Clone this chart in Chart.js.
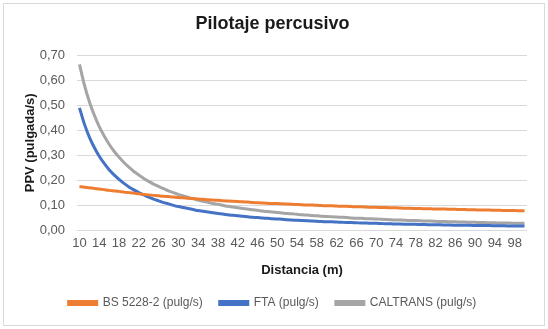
<!DOCTYPE html>
<html>
<head>
<meta charset="utf-8">
<script src="https://cdn.jsdelivr.net/npm/chart.js@4.4.1/dist/chart.umd.min.js"></script>
<style>
  html, body { margin: 0; padding: 0; background: #fff; }
  #wrap { width: 548px; height: 329px; }
</style>
</head>
<body>
<div id="wrap"><canvas id="ppvChart" width="548" height="329"></canvas></div>
<script>
// distancia (m), 10..100
const distancias = [];
for (let d = 10; d <= 100; d++) distancias.push(d);

// PPV (pulg/s)
const bs5228 = [
  0.175, 0.172, 0.170, 0.167, 0.165, 0.162, 0.159, 0.157, 0.155, 0.152,
  0.150, 0.148, 0.145, 0.143, 0.141, 0.139, 0.137, 0.135, 0.134, 0.132,
  0.130, 0.129, 0.127, 0.126, 0.124, 0.123, 0.121, 0.120, 0.119, 0.117,
  0.116, 0.115, 0.114, 0.113, 0.112, 0.110, 0.109, 0.108, 0.107, 0.106,
  0.106, 0.105, 0.104, 0.103, 0.102, 0.101, 0.100, 0.100, 0.099, 0.098,
  0.097, 0.097, 0.096, 0.095, 0.095, 0.094, 0.093, 0.093, 0.092, 0.091,
  0.091, 0.090, 0.090, 0.089, 0.089, 0.088, 0.087, 0.087, 0.086, 0.086,
  0.085, 0.085, 0.084, 0.084, 0.084, 0.083, 0.083, 0.082, 0.082, 0.081,
  0.081, 0.080, 0.080, 0.080, 0.079, 0.079, 0.078, 0.078, 0.078, 0.077,
  0.077
];
const fta = [
  0.490, 0.425, 0.373, 0.331, 0.296, 0.267, 0.242, 0.221, 0.203, 0.187,
  0.173, 0.161, 0.150, 0.141, 0.132, 0.124, 0.117, 0.110, 0.105, 0.099,
  0.094, 0.090, 0.086, 0.082, 0.078, 0.075, 0.072, 0.069, 0.066, 0.064,
  0.061, 0.059, 0.057, 0.055, 0.053, 0.051, 0.050, 0.048, 0.047, 0.045,
  0.044, 0.043, 0.041, 0.040, 0.039, 0.038, 0.037, 0.036, 0.035, 0.034,
  0.033, 0.033, 0.032, 0.031, 0.030, 0.030, 0.029, 0.028, 0.028, 0.027,
  0.027, 0.026, 0.025, 0.025, 0.024, 0.024, 0.023, 0.023, 0.023, 0.022,
  0.022, 0.021, 0.021, 0.021, 0.020, 0.020, 0.019, 0.019, 0.019, 0.019,
  0.018, 0.018, 0.018, 0.018, 0.017, 0.017, 0.017, 0.016, 0.016, 0.016,
  0.016
];
const caltrans = [
  0.665, 0.582, 0.515, 0.461, 0.415, 0.377, 0.344, 0.316, 0.292, 0.271,
  0.252, 0.235, 0.221, 0.207, 0.195, 0.184, 0.175, 0.166, 0.157, 0.150,
  0.143, 0.137, 0.131, 0.125, 0.120, 0.115, 0.111, 0.106, 0.103, 0.099,
  0.095, 0.092, 0.089, 0.086, 0.084, 0.081, 0.079, 0.076, 0.074, 0.072,
  0.070, 0.068, 0.066, 0.065, 0.063, 0.061, 0.060, 0.058, 0.057, 0.055,
  0.054, 0.053, 0.052, 0.051, 0.050, 0.048, 0.047, 0.047, 0.045, 0.045,
  0.044, 0.043, 0.042, 0.041, 0.040, 0.040, 0.039, 0.038, 0.038, 0.037,
  0.036, 0.036, 0.035, 0.034, 0.034, 0.033, 0.033, 0.032, 0.032, 0.031,
  0.031, 0.030, 0.030, 0.029, 0.029, 0.028, 0.028, 0.028, 0.027, 0.027,
  0.027
];

const FONT = "'Liberation Sans Narrow', 'Arial Narrow', 'Liberation Sans', Arial, sans-serif";
const GRIS = '#595959';

// marco exterior del grafico
const marco = {
  id: 'marco',
  afterDraw(chart) {
    const ctx = chart.ctx;
    ctx.save();
    ctx.strokeStyle = '#d9d9d9';
    ctx.lineWidth = 1;
    ctx.strokeRect(3.5, 3.5, chart.width - 7, chart.height - 7);
    ctx.restore();
  }
};

new Chart(document.getElementById('ppvChart'), {
  type: 'line',
  data: {
    labels: distancias,
    datasets: [
      { label: 'BS 5228-2 (pulg/s)', data: bs5228, borderColor: '#ED7D31', backgroundColor: '#ED7D31' },
      { label: 'FTA (pulg/s)', data: fta, borderColor: '#4472C4', backgroundColor: '#4472C4' },
      { label: 'CALTRANS (pulg/s)', data: caltrans, borderColor: '#A5A5A5', backgroundColor: '#A5A5A5' }
    ]
  },
  plugins: [marco],
  options: {
    responsive: false,
    animation: false,
    devicePixelRatio: 1,
    layout: { padding: { top: 3, left: 18, right: 21, bottom: 10 } },
    elements: {
      line: { borderWidth: 3, tension: 0.4, cubicInterpolationMode: 'monotone' },
      point: { radius: 0 }
    },
    plugins: {
      title: {
        display: true,
        text: 'Pilotaje percusivo',
        color: '#1a1a1a',
        font: { family: FONT, size: 18, weight: 'bold' },
        padding: { top: 10, bottom: 21 }
      },
      legend: {
        position: 'bottom',
        labels: {
          color: GRIS,
          font: { family: FONT, size: 12 },
          boxWidth: 28,
          boxHeight: 3,
          padding: 17
        }
      },
      tooltip: { enabled: false }
    },
    scales: {
      x: {
        offset: true,
        grid: { display: false, drawTicks: false },
        border: { display: false },
        ticks: {
          color: GRIS,
          font: { family: FONT, size: 13 },
          padding: 6,
          maxRotation: 0,
          autoSkip: false,
          callback: (v, i) => (i % 4 === 0 ? distancias[i] : '')
        },
        title: {
          display: true,
          text: 'Distancia (m)',
          color: '#1a1a1a',
          font: { family: FONT, size: 13, weight: 'bold' },
          padding: { top: 2, bottom: 2 }
        },
        afterFit: (s) => { s.height = 50; }
      },
      y: {
        min: 0,
        max: 0.7,
        grid: { color: '#d9d9d9', drawTicks: false },
        border: { display: false },
        ticks: {
          stepSize: 0.1,
          color: GRIS,
          font: { family: FONT, size: 13 },
          padding: 12,
          callback: (v) => v.toFixed(2).replace('.', ',')
        },
        title: {
          display: true,
          text: 'PPV (pulgada/s)',
          color: '#1a1a1a',
          font: { family: FONT, size: 13, weight: 'bold' },
          padding: { top: 5, bottom: 4 }
        },
        afterFit: (s) => { s.width = 59; }
      }
    }
  }
});
</script>
</body>
</html>
